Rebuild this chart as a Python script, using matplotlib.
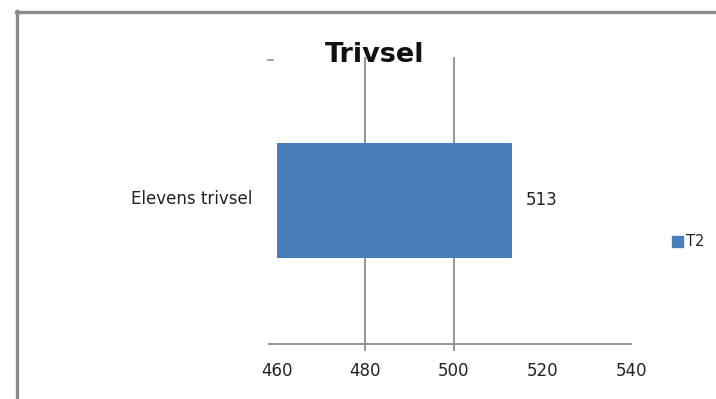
import matplotlib
matplotlib.use("Agg")
import matplotlib.pyplot as plt
from matplotlib.lines import Line2D

categories = ["Elevens trivsel"]
values = [513]
series_name = "T2"
title = "Trivsel"
xticks = [460, 480, 500, 520, 540]
gridlines_at = [480, 500]

W, H = 716, 399
fig = plt.figure(figsize=(W / 100, H / 100), dpi=100)
fig.patch.set_facecolor("white")

def fx(px):
    return px / W

def fy(py):
    return 1 - py / H

# title goes underneath the plot area so the gridlines run through it
fig.text(fx(375), fy(55), title, ha="center", va="center", fontsize=19.5,
         fontweight="bold", color="#111111", zorder=-1)

ax = fig.add_axes([fx(269), fy(344), fx(631) - fx(269), fy(57) - fy(344)])
ax.patch.set_alpha(0)
ax.set_xlim(458.2, 540)
ax.set_ylim(-0.5, 0.5)

# bars start at the axis base value
base = xticks[0]
bar_color = "#4a7ebb"
ax.barh(range(len(categories)), [v - base for v in values], left=base,
        height=0.40, color=bar_color, zorder=3)

for g in gridlines_at:
    ax.axvline(g, color="#8c8c8c", lw=1.3, zorder=1)

for s in ["top", "right", "left"]:
    ax.spines[s].set_visible(False)
ax.spines["bottom"].set_color("#8c8c8c")
ax.spines["bottom"].set_linewidth(1.3)

ax.set_xticks(xticks)
ax.set_xticklabels([str(t) for t in xticks], fontsize=12, color="#222222",
                   family="DejaVu Sans")
ax.tick_params(axis="x", length=0, pad=13)
for g in gridlines_at:
    ax.plot([g, g], [0, -0.02], transform=ax.get_xaxis_transform(),
            color="#8c8c8c", lw=1.3, clip_on=False)
ax.set_yticks([])

# category label and value label
for i, (c, v) in enumerate(zip(categories, values)):
    fig.text(fx(252), fy(199), c, ha="right", va="center", fontsize=12,
             color="#222222")
    ax.text(v + 3.2, i, str(v), ha="left", va="center", fontsize=12,
            color="#222222")

fig.add_artist(Line2D([fx(268), fx(273)], [fy(60), fy(60)], color="#8c8c8c",
                      lw=1.2))

# legend
fig.patches.append(plt.Rectangle((fx(672), fy(247)), fx(11), 11 / H,
                                 transform=fig.transFigure, color=bar_color,
                                 figure=fig))
fig.text(fx(686), fy(241.5), series_name, ha="left", va="center",
         fontsize=10.5, color="#222222")

# outer chart frame
fig.add_artist(Line2D([fx(16), fx(716)], [fy(11.5), fy(11.5)],
                      color="#8a8a8a", lw=2.4))
fig.add_artist(Line2D([fx(17), fx(17)], [fy(10.5), fy(399)],
                      color="#8a8a8a", lw=2.4))

fig.savefig("out.png", dpi=100, facecolor="white")
